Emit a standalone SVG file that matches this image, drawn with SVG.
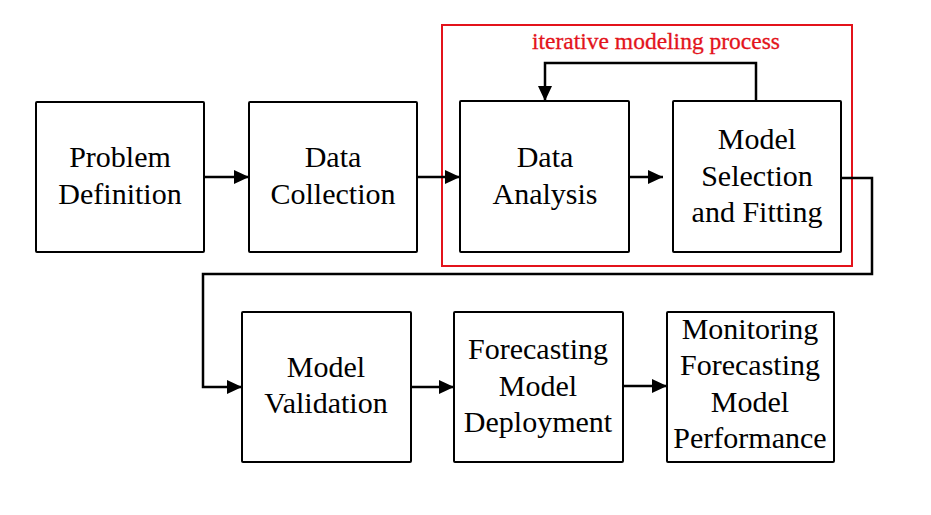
<svg xmlns="http://www.w3.org/2000/svg" width="931" height="515" viewBox="0 0 931 515">
<style>
.box{fill:#fff;stroke:#000;stroke-width:2}
.lbl{font-family:"Liberation Serif","Times New Roman",serif;font-size:30px;fill:#000;text-anchor:middle}
.con{fill:none;stroke:#000;stroke-width:2.5}
.grp{fill:none;stroke:#e3131b;stroke-width:2}
.red{font-family:"Liberation Serif","Times New Roman",serif;font-size:23px;fill:#e3131b;text-anchor:middle;stroke:#e3131b;stroke-width:0.3}
</style>
<defs>
<marker id="ah" markerUnits="userSpaceOnUse" markerWidth="16" markerHeight="14" refX="15" refY="7" orient="auto">
<path d="M0,0 L15,7 L0,14 z" fill="#000"/>
</marker>
</defs>
<rect width="931" height="515" fill="#fff"/>
<g id="iterative-group">
<rect class="grp" x="442" y="25" width="410" height="241"/>
<text class="red" x="656" y="49" textLength="248" lengthAdjust="spacingAndGlyphs">iterative modeling process</text>
</g>
<g id="problem-definition">
<rect class="box" x="36" y="102" width="168" height="150" rx="1"/>
<text class="lbl" x="120" y="167">Problem</text>
<text class="lbl" x="120" y="204">Definition</text>
</g>
<g id="data-collection">
<rect class="box" x="249" y="102" width="168" height="150" rx="1"/>
<text class="lbl" x="333" y="167">Data</text>
<text class="lbl" x="333" y="204">Collection</text>
</g>
<g id="data-analysis">
<rect class="box" x="460" y="101" width="169" height="151" rx="1"/>
<text class="lbl" x="545" y="167">Data</text>
<text class="lbl" x="545" y="204">Analysis</text>
</g>
<g id="model-selection">
<rect class="box" x="673" y="101" width="168" height="151" rx="1"/>
<text class="lbl" x="757" y="149">Model</text>
<text class="lbl" x="757" y="186">Selection</text>
<text class="lbl" x="757" y="222">and Fitting</text>
</g>
<g id="model-validation">
<rect class="box" x="242" y="312" width="169" height="150" rx="1"/>
<text class="lbl" x="326" y="377">Model</text>
<text class="lbl" x="326" y="413">Validation</text>
</g>
<g id="forecasting-deployment">
<rect class="box" x="454" y="312" width="169" height="150" rx="1"/>
<text class="lbl" x="538" y="359">Forecasting</text>
<text class="lbl" x="538" y="396">Model</text>
<text class="lbl" x="538" y="432">Deployment</text>
</g>
<g id="monitoring">
<rect class="box" x="667" y="312" width="167" height="150" rx="1"/>
<text class="lbl" x="750" y="339">Monitoring</text>
<text class="lbl" x="750" y="375">Forecasting</text>
<text class="lbl" x="750" y="412">Model</text>
<text class="lbl" x="750" y="448">Performance</text>
</g>
<g id="connectors">
<path class="con" d="M204,177 H249" marker-end="url(#ah)"/>
<path class="con" d="M417,177 H460" marker-end="url(#ah)"/>
<path class="con" d="M629,177 H663" marker-end="url(#ah)"/>
<path class="con" d="M756,101 V63 H545 V101" marker-end="url(#ah)"/>
<path class="con" d="M841,178 H872 V274 H203 V387 H242" marker-end="url(#ah)"/>
<path class="con" d="M411,387 H454" marker-end="url(#ah)"/>
<path class="con" d="M623,386 H667" marker-end="url(#ah)"/>
</g>
</svg>
